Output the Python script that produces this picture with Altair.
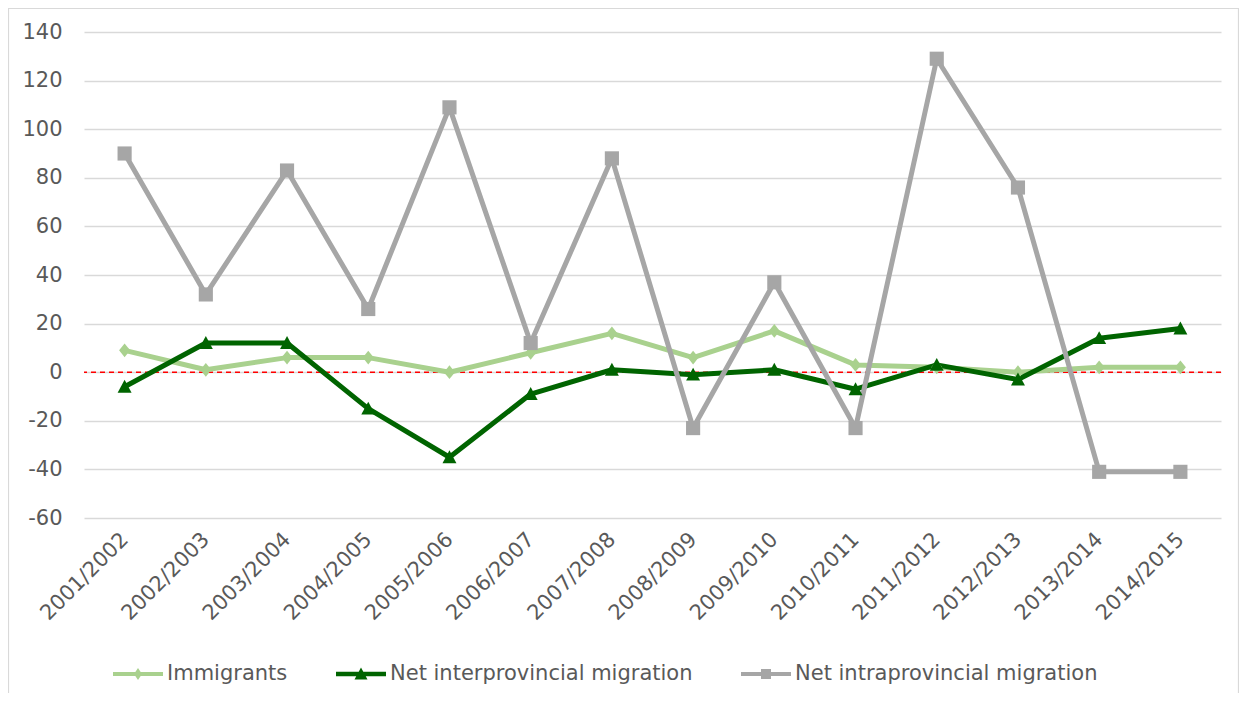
import altair as alt
import pandas as pd

years = ["2001/2002", "2002/2003", "2003/2004", "2004/2005", "2005/2006", "2006/2007",
         "2007/2008", "2008/2009", "2009/2010", "2010/2011", "2011/2012", "2012/2013",
         "2013/2014", "2014/2015"]
immigrants = [9, 1, 6, 6, 0, 8, 16, 6, 17, 3, 2, 0, 2, 2]
interprov = [-6, 12, 12, -15, -35, -9, 1, -1, 1, -7, 3, -3, 14, 18]
intraprov = [90, 32, 83, 26, 109, 12, 88, -23, 37, -23, 129, 76, -41, -41]

series_names = ["Immigrants", "Net interprovincial migration", "Net intraprovincial migration"]
series_colors = ["#A9D18E", "#006400", "#A6A6A6"]
y_ticks = [-60, -40, -20, 0, 20, 40, 60, 80, 100, 120, 140]

rows = []
for name, vals in zip(series_names, [immigrants, interprov, intraprov]):
    for yr, v in zip(years, vals):
        rows.append({"year": yr, "value": v, "series": name})
df = pd.DataFrame(rows)

# off-scale rows, clipped away: only used to produce the legend entries
legend_df = pd.DataFrame({"year": [years[0]] * 3, "value": [-1000] * 3, "series": series_names})

FONT = "DejaVu Sans"
TXT = "#595959"

x_enc = alt.X("year:O", sort=years, scale=alt.Scale(domain=years, padding=0.5),
              axis=alt.Axis(title=None, labelAngle=-45, labelAlign="right", labelBaseline="middle",
                            labelPadding=18, labelFont=FONT, labelFontSize=21, labelColor=TXT,
                            domain=False, ticks=False, grid=False, labelOverlap=False))
y_enc = alt.Y("value:Q", scale=alt.Scale(domain=[-60, 140], nice=False, zero=False),
              axis=alt.Axis(title=None, values=y_ticks, labelFont=FONT, labelFontSize=21,
                            labelColor=TXT, labelPadding=22, domain=False, ticks=False,
                            labelExpr="'' + datum.value",
                            grid=True, gridColor="#D9D9D9", gridWidth=1.5))

color_scale = alt.Scale(domain=series_names, range=series_colors)

frame = alt.Chart(pd.DataFrame({"a": [0]})).mark_rect(
    fill="white", fillOpacity=0, stroke="#D9D9D9", strokeWidth=1.2
).encode(x=alt.value(-75.5), x2=alt.value(1154.5), y=alt.value(-23.5), y2=alt.value(720))

zero = alt.Chart(pd.DataFrame({"v": [0]})).mark_rule(
    color="#FF0000", strokeDash=[5, 4], strokeWidth=1.5
).encode(y=alt.Y("v:Q", scale=alt.Scale(domain=[-60, 140], nice=False, zero=False)))

lines = alt.Chart(df).mark_line(strokeWidth=5, strokeJoin="round").encode(
    x=x_enc, y=y_enc,
    color=alt.Color("series:N", scale=color_scale, legend=None),
)

marker_paths = [
    "M0,-1 L0.8,0 L0,1 L-0.8,0 Z",
    "M0,-1 L1,0.85 L-1,0.85 Z",
    "M-1,-1 L1,-1 L1,1 L-1,1 Z",
]
markers = alt.Chart(df).mark_point(filled=True, opacity=1).encode(
    x=x_enc, y=y_enc,
    color=alt.Color("series:N", scale=color_scale, legend=None),
    shape=alt.Shape("series:N", scale=alt.Scale(domain=series_names, range=marker_paths), legend=None),
    size=alt.Size("series:N", scale=alt.Scale(domain=series_names, range=[190, 200, 170]), legend=None),
)

legend_paths = [
    "M-1,-0.08 L1,-0.08 L1,0.08 L-1,0.08 Z M0,-0.24 L0.16,0 L0,0.24 L-0.16,0 Z",
    "M-1,-0.09 L1,-0.09 L1,0.09 L-1,0.09 Z M0,-0.26 L0.26,0.22 L-0.26,0.22 Z",
    "M-1,-0.08 L1,-0.08 L1,0.08 L-1,0.08 Z M-0.2,-0.2 L0.2,-0.2 L0.2,0.2 L-0.2,0.2 Z",
]
legend_layer = alt.Chart(legend_df).mark_point(filled=True, opacity=1, clip=True).encode(
    x=x_enc, y=y_enc,
    color=alt.Color("series:N", scale=color_scale, title=None,
                    legend=alt.Legend(orient="none", direction="horizontal", legendX=29, legendY=617,
                                      columns=3, columnPadding=48, labelFont=FONT, labelFontSize=21,
                                      labelColor=TXT, labelOffset=4, symbolSize=2500,
                                      symbolOpacity=1, symbolStrokeWidth=0, title=None,
                                      labelLimit=500)),
    shape=alt.Shape("series:N", scale=alt.Scale(domain=series_names, range=legend_paths), title=None),
)

chart = alt.layer(frame, zero, lines, markers, legend_layer).resolve_scale(
    shape="independent", color="independent", size="independent"
).properties(
    width=1137, height=486,
    autosize=alt.AutoSizeParams(type="none"),
    padding={"left": 76, "top": 24, "right": 18, "bottom": 175},
).configure_view(stroke=None)

chart.save("out.html", embed_options={"renderer": "svg", "actions": False})
